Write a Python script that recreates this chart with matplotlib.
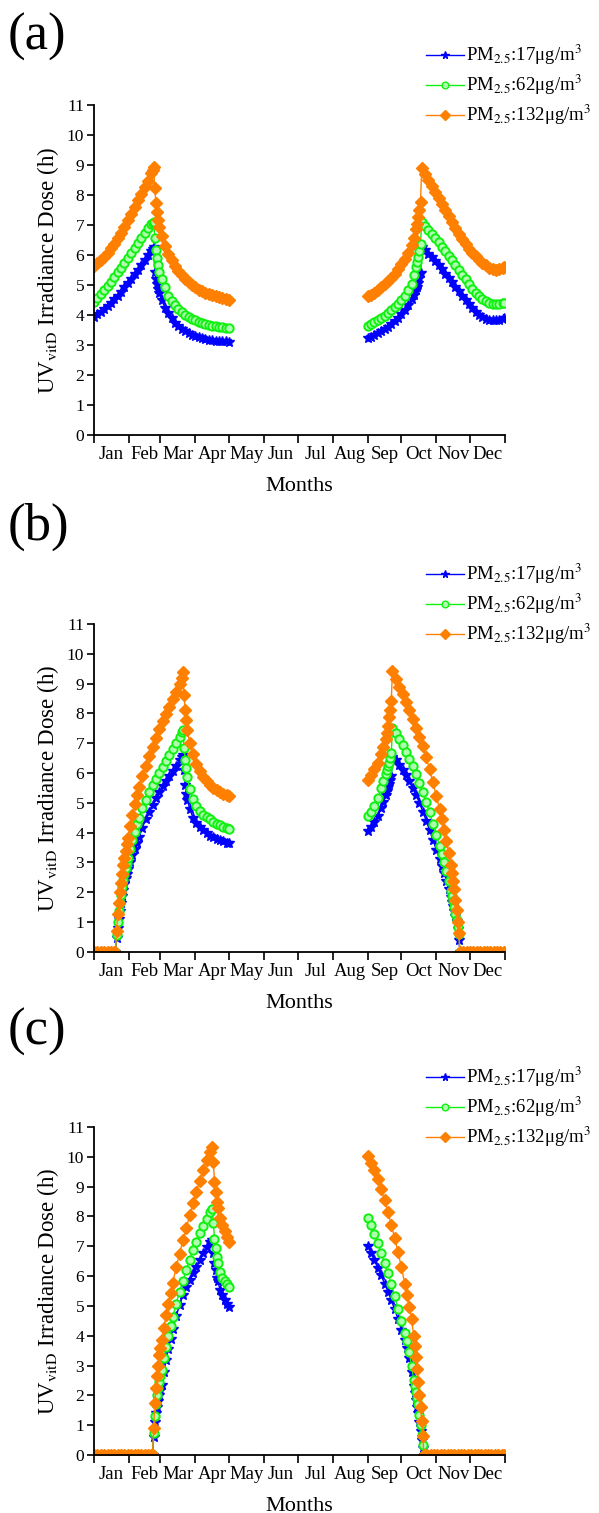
import numpy as np
import matplotlib.pyplot as plt

plt.rcParams['font.family'] = ['Liberation Serif', 'DejaVu Serif']
plt.rcParams['mathtext.fontset'] = 'stix'

months = ['Jan', 'Feb', 'Mar', 'Apr', 'May', 'Jun',
          'Jul', 'Aug', 'Sep', 'Oct', 'Nov', 'Dec']
month_start = [0, 31, 59, 90, 120, 151, 181, 212, 243, 273, 304, 334, 365]
labels = [r'PM$_{2.5}$:17μg/m$^3$', r'PM$_{2.5}$:62μg/m$^3$', r'PM$_{2.5}$:132μg/m$^3$']

# ---- panel (a): day of year, values for 17 / 62 / 132 ug/m3
a1_days = list(range(0, 52, 3)) + [52, 53, 54, 55, 56, 57, 58] + list(range(60, 121, 3))
a1_blue = [3.95, 4.02, 4.1, 4.19, 4.29, 4.4, 4.52, 4.65, 4.78, 4.92, 5.06, 5.21, 5.36, 5.51, 5.67, 5.83, 5.99, 6.15,
           6.21, 6.27, 5.44, 5.2, 5.02, 4.86, 4.72,
           4.5, 4.25, 4.06, 3.89, 3.75, 3.64, 3.55, 3.47, 3.41, 3.35, 3.3, 3.26, 3.23, 3.2, 3.18, 3.17, 3.15, 3.14,
           3.13, 3.12, 3.11]
a1_green = [4.45, 4.57, 4.7, 4.83, 4.97, 5.11, 5.26, 5.42, 5.58, 5.74, 5.9, 6.07, 6.24, 6.41, 6.58, 6.74, 6.89, 7.02,
            7.07, 7.11, 6.56, 6.17, 5.89, 5.67, 5.45,
            5.2, 4.92, 4.65, 4.47, 4.32, 4.2, 4.1, 4.0, 3.93, 3.87, 3.82, 3.78, 3.74, 3.7, 3.67, 3.64, 3.62, 3.6,
            3.59, 3.58, 3.56]
a1_orange = [5.62, 5.72, 5.82, 5.94, 6.07, 6.22, 6.38, 6.56, 6.75, 6.95, 7.16, 7.38, 7.6, 7.82, 8.04, 8.26, 8.48, 8.72,
             8.82, 8.92, 8.22, 7.74, 7.44, 7.17, 6.95,
             6.65, 6.3, 6.05, 5.83, 5.64, 5.47, 5.33, 5.2, 5.1, 5.0, 4.92, 4.85, 4.79, 4.74, 4.7, 4.66, 4.62, 4.59,
             4.56, 4.53, 4.5]

a2_days = list(range(243, 283, 3)) + [284, 286, 287, 288, 289, 290, 291] + list(range(294, 364, 3)) + [364]
a2_blue = [3.22, 3.27, 3.33, 3.39, 3.46, 3.53, 3.61, 3.7, 3.8, 3.91, 4.03, 4.17, 4.33, 4.52,
           4.67, 4.85, 4.95, 5.07, 5.22, 5.4, 6.28,
           6.16, 6.04, 5.92, 5.79, 5.66, 5.52, 5.38, 5.24, 5.09, 4.94, 4.79, 4.64, 4.5, 4.36, 4.22, 4.1, 4.0, 3.92,
           3.87, 3.84, 3.83, 3.83, 3.85, 3.88, 3.89]
a2_green = [3.65, 3.7, 3.76, 3.83, 3.9, 3.98, 4.06, 4.16, 4.27, 4.38, 4.5, 4.65, 4.82, 5.05,
            5.33, 5.6, 5.76, 5.94, 6.15, 6.38, 7.11,
            6.98, 6.85, 6.71, 6.57, 6.43, 6.28, 6.12, 5.97, 5.82, 5.66, 5.5, 5.35, 5.19, 5.03, 4.88, 4.75, 4.63,
            4.53, 4.46, 4.41, 4.38, 4.37, 4.38, 4.4, 4.41]
a2_orange = [4.62, 4.68, 4.75, 4.83, 4.92, 5.02, 5.12, 5.24, 5.38, 5.53, 5.7, 5.88, 6.08, 6.35,
             6.58, 6.86, 7.02, 7.28, 7.5, 7.78, 8.89,
             8.7, 8.5, 8.3, 8.1, 7.9, 7.7, 7.5, 7.3, 7.1, 6.9, 6.7, 6.52, 6.36, 6.21, 6.08, 5.96, 5.85, 5.75,
             5.66, 5.58, 5.53, 5.51, 5.53, 5.58, 5.6]

# ---- panel (b)
b1_days = [0, 3, 6, 9, 12, 15, 18, 19] + list(range(20, 31)) + [32, 34, 36, 38, 40] + list(range(43, 77, 3)) \
    + [78, 79, 80, 81, 82, 83] + list(range(85, 119, 3)) + [120]
b1_blue = [0] * 8 + [0.45, 0.8, 1.1, 1.38, 1.63, 1.86, 2.08, 2.28, 2.47, 2.62, 2.77,
                     3.02, 3.24, 3.45, 3.65, 3.84,
                     4.16, 4.46, 4.7, 4.93, 5.15, 5.36, 5.55, 5.73, 5.9, 6.07, 6.24, 6.43,
                     6.55, 6.6, 6.1, 5.6, 5.3, 5.1,
                     4.78, 4.5, 4.32, 4.18, 4.07, 3.98, 3.9, 3.84, 3.78, 3.74, 3.7, 3.66, 3.64]
b1_green = [0] * 8 + [0.55, 1.0, 1.35, 1.65, 1.92, 2.17, 2.4, 2.6, 2.8, 2.98, 3.15,
                      3.46, 3.75, 4.02, 4.27, 4.5,
                      4.82, 5.1, 5.35, 5.58, 5.8, 6.01, 6.21, 6.41, 6.6, 6.8, 7.0, 7.22,
                      7.38, 7.45, 6.83, 6.44, 6.15, 5.85,
                      5.45, 5.12, 4.88, 4.72, 4.6, 4.52, 4.44, 4.37, 4.3, 4.25, 4.2, 4.15, 4.12]
b1_orange = [0] * 8 + [0.7, 1.25, 1.65, 2.0, 2.32, 2.62, 2.9, 3.15, 3.38, 3.6, 3.8,
                       4.22, 4.6, 4.95, 5.25, 5.52,
                       5.9, 6.24, 6.56, 6.88, 7.18, 7.46, 7.73, 7.98, 8.22, 8.47, 8.72, 8.98,
                       9.18, 9.4, 8.6, 8.12, 7.78, 7.45,
                       7.0, 6.62, 6.3, 6.05, 5.88, 5.74, 5.6, 5.5, 5.42, 5.36, 5.31, 5.26, 5.22]

b2_days = [243, 246, 249, 252, 255, 257, 259, 260, 261, 262, 263, 264, 265] + list(range(268, 308, 3)) \
    + [309, 311, 313, 315, 317, 318, 319, 320, 321, 322, 323, 324] + list(range(325, 365, 3))
b2_blue = [4.05, 4.18, 4.35, 4.55, 4.82, 5.03, 5.27, 5.4, 5.52, 5.64, 5.76, 5.9, 6.55,
           6.42, 6.27, 6.1, 5.92, 5.72, 5.5, 5.26, 5.0, 4.7, 4.4, 4.08, 3.75, 3.42, 3.1,
           2.87, 2.63, 2.38, 2.1, 1.82, 1.67, 1.52, 1.36, 1.2, 1.03, 0.75, 0.4] + [0] * 14
b2_green = [4.55, 4.7, 4.9, 5.15, 5.48, 5.72, 5.98, 6.1, 6.22, 6.33, 6.5, 6.66, 7.5,
            7.33, 7.15, 6.95, 6.72, 6.48, 6.22, 5.95, 5.66, 5.35, 5.03, 4.68, 4.3, 3.92, 3.55,
            3.28, 3.0, 2.7, 2.38, 2.05, 1.88, 1.7, 1.5, 1.28, 1.06, 0.82, 0.58] + [0] * 14
b2_orange = [5.75, 5.92, 6.12, 6.35, 6.64, 6.88, 7.15, 7.33, 7.56, 7.89, 8.12, 8.4, 9.41,
             9.16, 8.9, 8.64, 8.38, 8.1, 7.8, 7.5, 7.2, 6.9, 6.53, 6.12, 5.68, 5.22, 4.78,
             4.45, 4.1, 3.73, 3.32, 2.9, 2.65, 2.38, 2.1, 1.75, 1.4, 1.0, 0.62] + [0] * 14

# ---- panel (c)
c1_days = list(range(0, 52, 3)) + [52, 53, 54, 55, 56, 57, 58, 59, 60, 62, 64, 66, 68, 70] \
    + list(range(73, 104, 3)) + [105, 106, 107, 108, 109, 110, 112, 114, 116, 118, 120]
c1_blue = [0] * 19 + [0.6, 1.1, 1.4, 1.62, 1.82, 2.0, 2.18, 2.36, 2.78, 3.18, 3.55, 3.9, 4.22,
                      4.65, 5.04, 5.36, 5.64, 5.88, 6.1, 6.32, 6.54, 6.76, 6.98, 7.16,
                      7.22, 6.76, 6.43, 6.2, 5.95, 5.82, 5.53, 5.35, 5.2, 5.08, 4.97]
c1_green = [0] * 19 + [0.73, 1.3, 1.7, 2.0, 2.25, 2.45, 2.65, 2.85, 3.25, 3.62, 3.98, 4.32, 4.64,
                       5.08, 5.48, 5.85, 6.2, 6.55, 6.86, 7.16, 7.43, 7.69, 7.93, 8.14,
                       8.26, 7.77, 7.26, 6.93, 6.65, 6.45, 6.15, 5.95, 5.82, 5.72, 5.62]
c1_orange = [0] * 19 + [0.9, 1.75, 2.25, 2.65, 3.0, 3.35, 3.6, 3.85, 4.25, 4.68, 5.05, 5.42, 5.78,
                        6.3, 6.75, 7.2, 7.62, 8.04, 8.44, 8.83, 9.2, 9.56, 9.88, 10.17,
                        10.34, 9.83, 9.16, 8.83, 8.5, 8.3, 7.95, 7.7, 7.5, 7.32, 7.15]

c2_days = list(range(243, 277, 3)) + [278, 280, 282, 284, 285, 286, 287, 288, 289, 290, 291, 292] \
    + list(range(293, 363, 3)) + [364]
c2_blue = [7.0, 6.78, 6.53, 6.28, 6.02, 5.75, 5.48, 5.2, 4.88, 4.56, 4.2, 3.85,
           3.58, 3.25, 2.8, 2.3, 2.07, 1.85, 1.62, 1.4, 1.1, 0.8, 0.5, 0.25] + [0] * 25
c2_green = [7.95, 7.7, 7.42, 7.1, 6.78, 6.44, 6.1, 5.74, 5.32, 4.9, 4.5, 4.1,
            3.82, 3.45, 3.0, 2.5, 2.3, 2.1, 1.9, 1.7, 1.35, 1.0, 0.67, 0.35] + [0] * 25
c2_orange = [10.02, 9.8, 9.55, 9.26, 8.93, 8.55, 8.15, 7.73, 7.27, 6.8, 6.3, 5.75,
             5.36, 4.95, 4.55, 4.0, 3.65, 3.3, 2.9, 2.45, 2.0, 1.6, 1.15, 0.65] + [0] * 25

panels = [
    ('(a)', [(a1_days, a1_blue, a1_green, a1_orange), (a2_days, a2_blue, a2_green, a2_orange)]),
    ('(b)', [(b1_days, b1_blue, b1_green, b1_orange), (b2_days, b2_blue, b2_green, b2_orange)]),
    ('(c)', [(c1_days, c1_blue, c1_green, c1_orange), (c2_days, c2_blue, c2_green, c2_orange)]),
]

styles = [
    dict(color='#0000ff', marker='*', ms=7, mec='#0000ff'),
    dict(color='#10f010', marker='o', ms=6, mfc='#b0ffb0', mec='#10f010', mew=1.4),
    dict(color='#ff8000', marker='D', ms=6.5, mec='#ff8000'),
]

W, H = 599, 1513
fig = plt.figure(figsize=(W / 100, H / 100), dpi=100)

ax_px = [(105, 435), (624, 951.7), (1127, 1455)]   # top, bottom (pixels)
label_y = [37, 527, 1032]
mid = [(month_start[i] + month_start[i + 1]) / 2 for i in range(12)]

for (tag, segs), (top, bot), ly in zip(panels, ax_px, label_y):
    ax = fig.add_axes([94 / W, 1 - bot / H, 411 / W, (bot - top) / H])
    for days, blue, green, orange in segs:
        for k, vals in enumerate([blue, green, orange]):
            ax.plot(days, vals, lw=1.0, **styles[k])
    ax.set_xlim(0, 365)
    ax.set_ylim(0, 11)
    ax.set_yticks(range(0, 12))
    ax.set_xticks(month_start)
    ax.set_xticklabels([])
    ax.set_xticks(mid, minor=True)
    ax.set_xticklabels(months, minor=True)
    ax.tick_params(axis='x', which='minor', length=0, labelsize=13.5, pad=8)
    ax.tick_params(axis='x', which='major', direction='out', length=6, width=1.2)
    ax.tick_params(axis='y', direction='out', length=5, width=1.2, labelsize=12.5, pad=2)
    for s in ['top', 'right']:
        ax.spines[s].set_visible(False)
    for s in ['left', 'bottom']:
        ax.spines[s].set_linewidth(1.3)
    ax.set_xlabel('Months', fontsize=16, labelpad=10)
    ax.set_ylabel(r'UV$_{\mathrm{vitD}}$ Irradiance Dose (h)', fontsize=16.5, labelpad=4)

    handles = [plt.Line2D([], [], lw=1.0, color=st['color'], marker=st['marker'],
                          ms=st['ms'] * 0.8, mfc=st.get('mfc', st['color']), mec=st['mec'])
               for st in styles]
    ax.legend(handles, labels, loc='center left', bbox_to_anchor=(0.808, 1 + 20 / (bot - top)),
              frameon=False, fontsize=13.5, handlelength=2.0, handletextpad=0.15,
              labelspacing=0.3, borderaxespad=0, borderpad=0)

    fig.text(8 / W, 1 - ly / H, tag, fontsize=38, va='center', ha='left')

fig.savefig('out.png', dpi=100)
